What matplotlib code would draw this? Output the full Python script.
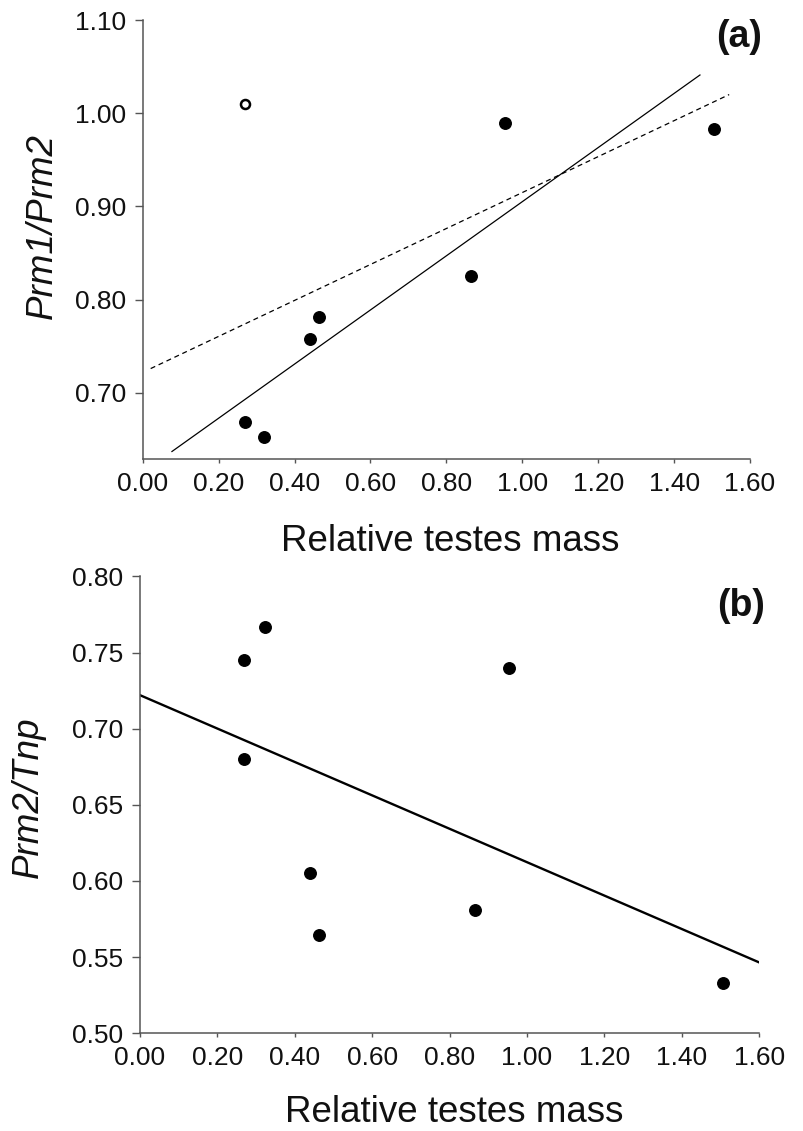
import matplotlib
matplotlib.use("Agg")
import matplotlib.pyplot as plt

plt.rcParams['font.family'] = ['Liberation Sans', 'DejaVu Sans']

# panel (a): Prm1/Prm2 vs relative testes mass
mass_a = [0.27, 0.32, 0.44, 0.465, 0.866, 0.954, 1.505]
prm1_prm2 = [0.669, 0.653, 0.758, 0.781, 0.825, 0.990, 0.983]
outlier_mass = [0.27]
outlier_ratio = [1.010]
solid_fit_x = [0.077, 1.468]
solid_fit_y = [0.637, 1.041]
dash_fit_x = [0.021, 1.545]
dash_fit_y = [0.726, 1.020]

# panel (b): Prm2/Tnp vs relative testes mass
mass_b = [0.27, 0.323, 0.27, 0.439, 0.463, 0.954, 0.866, 1.505]
prm2_tnp = [0.745, 0.767, 0.680, 0.605, 0.5645, 0.740, 0.581, 0.533]
fit_b_x = [0.0, 1.6]
fit_b_y = [0.722, 0.5465]

xticks = [0.0, 0.2, 0.4, 0.6, 0.8, 1.0, 1.2, 1.4, 1.6]
yticks_a = [0.70, 0.80, 0.90, 1.00, 1.10]
yticks_b = [0.50, 0.55, 0.60, 0.65, 0.70, 0.75, 0.80]

fig = plt.figure(figsize=(8.04, 11.31), dpi=100)
ax1 = fig.add_axes([0.1775, 0.5942, 0.7554, 0.3881])
ax2 = fig.add_axes([0.1741, 0.0864, 0.7703, 0.4040])

spine_col = '#555555'
text_col = '#111111'


def style(ax, xlab_y):
    for s in ['top', 'right']:
        ax.spines[s].set_visible(False)
    for s in ['left', 'bottom']:
        ax.spines[s].set_color(spine_col)
        ax.spines[s].set_linewidth(1.1)
    ax.tick_params(axis='both', colors=spine_col, labelcolor=text_col,
                   direction='out', width=1.0, labelsize=19)
    ax.tick_params(axis='x', length=3, pad=6.5)
    ax.tick_params(axis='y', length=6, pad=6)
    ax.set_xticks(xticks)
    ax.set_xticklabels(['%.2f' % v for v in xticks])
    ax.set_xlim(0, 1.6)
    ax.set_xlabel('Relative testes mass', fontsize=26.5, color=text_col, va='baseline')
    ax.xaxis.set_label_coords(0.507, xlab_y)


style(ax1, -0.2096)
ax1.plot(solid_fit_x, solid_fit_y, color='black', lw=0.9)
ax1.plot(dash_fit_x, dash_fit_y, color='black', lw=0.9, ls=(0, (4, 3)))
ax1.plot(mass_a, prm1_prm2, 'o', color='black', ms=8.3)
ax1.plot(outlier_mass, outlier_ratio, 'o', mfc='white', mec='black', mew=1.8, ms=6.5)
ax1.set_ylim(0.629, 1.10)
ax1.set_yticks(yticks_a)
ax1.set_yticklabels(['%.2f' % v for v in yticks_a])
ax1.set_ylabel('Prm1/Prm2', fontsize=26.5, style='italic', color=text_col, va='baseline')
ax1.yaxis.set_label_coords(-0.1494, 0.5308)
ax1.text(1.02, 0.961, '(a)', transform=ax1.transAxes, fontsize=27,
         fontweight='bold', ha='right', va='center', color=text_col, clip_on=False)

style(ax2, -0.1938)
ax2.plot(fit_b_x, fit_b_y, color='black', lw=1.7)
ax2.plot(mass_b, prm2_tnp, 'o', color='black', ms=8.3)
ax2.set_ylim(0.50, 0.80)
ax2.set_yticks(yticks_b)
ax2.set_yticklabels(['%.2f' % v for v in yticks_b])
ax2.set_ylabel('Prm2/Tnp', fontsize=26.5, style='italic', color=text_col, va='baseline')
ax2.yaxis.set_label_coords(-0.1647, 0.5164)
ax2.text(1.009, 0.936, '(b)', transform=ax2.transAxes, fontsize=27,
         fontweight='bold', ha='right', va='center', color=text_col, clip_on=False)

fig.savefig('out.png', dpi=100)
